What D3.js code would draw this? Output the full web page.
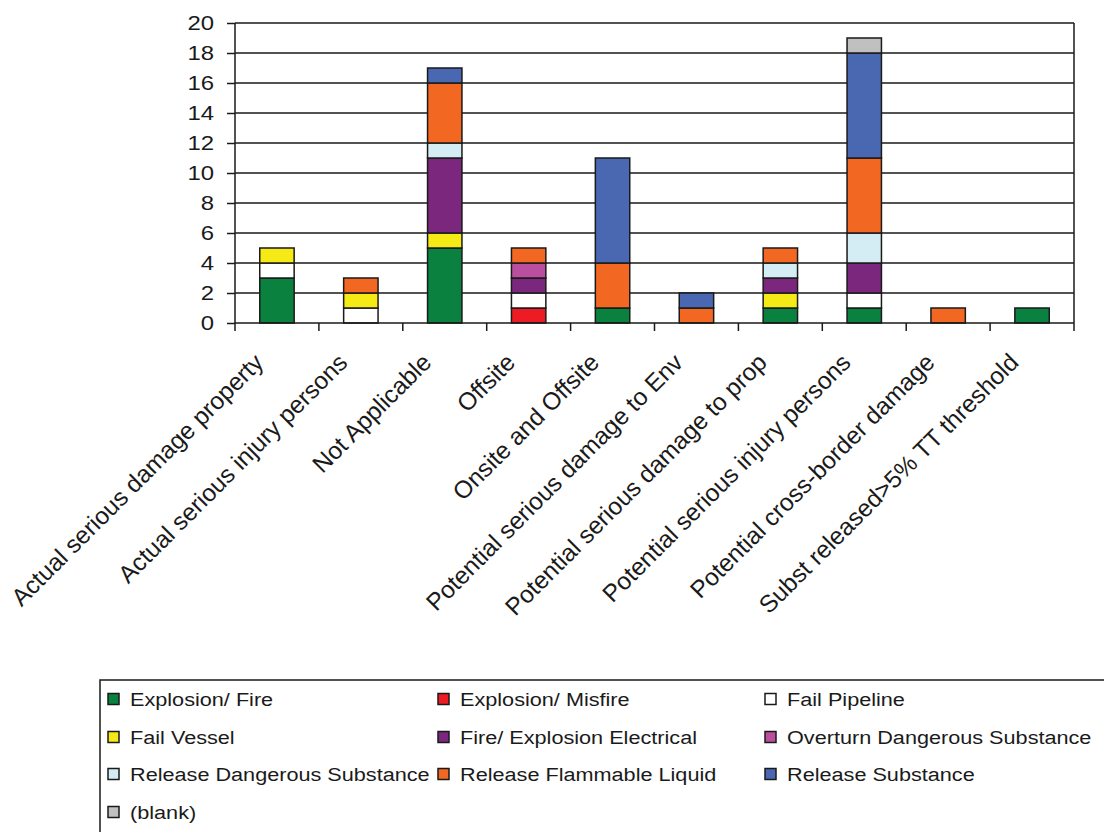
<!DOCTYPE html>
<html>
<head>
<meta charset="utf-8">
<script src="https://cdn.jsdelivr.net/npm/d3@7"></script>
<style>
  body { margin: 0; background: #fff; }
  svg { display: block; font-family: "Liberation Sans", Arial, sans-serif; }
</style>
</head>
<body>
<div id="chart"></div>
<script>
var categories = ["Actual serious damage property", "Actual serious injury persons", "Not Applicable",
    "Offsite", "Onsite and Offsite", "Potential serious damage to Env", "Potential serious damage to prop",
    "Potential serious injury persons", "Potential cross-border damage", "Subst released>5% TT threshold"];

var seriesNames = ["Explosion/ Fire", "Explosion/ Misfire", "Fail Pipeline", "Fail Vessel",
    "Fire/ Explosion Electrical", "Overturn Dangerous Substance", "Release Dangerous Substance",
    "Release Flammable Liquid", "Release Substance", "(blank)"];

var seriesColors = ["#0b8140", "#ed1c24", "#ffffff", "#f5e916", "#7b277d", "#b94f9e",
    "#d4edf4", "#f26822", "#4a67b1", "#c0c0c0"];

// one array per series, values per category
var explosionFire     = [3, 0, 5, 0, 1, 0, 1, 1, 0, 1];
var explosionMisfire  = [0, 0, 0, 1, 0, 0, 0, 0, 0, 0];
var failPipeline      = [1, 1, 0, 1, 0, 0, 0, 1, 0, 0];
var failVessel        = [1, 1, 1, 0, 0, 0, 1, 0, 0, 0];
var fireElectrical    = [0, 0, 5, 1, 0, 0, 1, 2, 0, 0];
var overturnDangerous = [0, 0, 0, 1, 0, 0, 0, 0, 0, 0];
var releaseDangerous  = [0, 0, 1, 0, 0, 0, 1, 2, 0, 0];
var releaseFlammable  = [0, 1, 4, 1, 3, 1, 1, 5, 1, 0];
var releaseSubstance  = [0, 0, 1, 0, 7, 1, 0, 7, 0, 0];
var blank             = [0, 0, 0, 0, 0, 0, 0, 1, 0, 0];

var seriesValues = [explosionFire, explosionMisfire, failPipeline, failVessel, fireElectrical,
    overturnDangerous, releaseDangerous, releaseFlammable, releaseSubstance, blank];

var yTicks = [0, 2, 4, 6, 8, 10, 12, 14, 16, 18, 20];

var svgWidth = 1104, svgHeight = 832;
var margin = {top: 23, left: 235, right: 30},
    width = 1074 - margin.left,
    height = 300;
var stretch = 1.14; // the reference text is a bit wide

var svg = d3.select("#chart").append("svg")
    .attr("width", svgWidth)
    .attr("height", svgHeight);

var g = svg.append("g")
    .attr("transform", "translate(" + margin.left + "," + margin.top + ")");

// build table for d3.stack
var keys = seriesNames;
var table = categories.map(function(c, i) {
    var row = {category: c};
    keys.forEach(function(k, j) { row[k] = seriesValues[j][i]; });
    return row;
});

var stacked = d3.stack().keys(keys)(table);

var x = d3.scaleBand()
    .domain(categories)
    .range([0, width])
    .paddingInner(0)
    .paddingOuter(0);

var y = d3.scaleLinear()
    .domain([0, 20])
    .range([height, 0]);

var color = d3.scaleOrdinal().domain(keys).range(seriesColors);

// gridlines
g.append("g")
    .attr("class", "grid")
    .selectAll("line")
    .data(yTicks.slice(1))
    .enter().append("line")
    .attr("x1", 0)
    .attr("x2", width)
    .attr("y1", function(d) { return y(d); })
    .attr("y2", function(d) { return y(d); })
    .attr("stroke", "#1a1a1a")
    .attr("stroke-width", 1.5);

// right border
g.append("line")
    .attr("x1", width).attr("x2", width)
    .attr("y1", 0).attr("y2", height)
    .attr("stroke", "#1a1a1a")
    .attr("stroke-width", 1.5);

// bars
var barW = x.bandwidth() * 0.41;
var layer = g.selectAll(".layer")
    .data(stacked)
    .enter().append("g")
    .attr("class", "layer")
    .attr("fill", function(d) { return color(d.key); });

layer.selectAll("rect")
    .data(function(d) { return d.filter(function(p) { return p[1] - p[0] > 0; }); })
    .enter().append("rect")
    .attr("x", function(d) { return x(d.data.category) + (x.bandwidth() - barW) / 2; })
    .attr("y", function(d) { return y(d[1]); })
    .attr("width", barW)
    .attr("height", function(d) { return y(d[0]) - y(d[1]); })
    .attr("stroke", "#1a1a1a")
    .attr("stroke-width", 1.5);

// y axis
var yAxis = d3.axisLeft(y)
    .tickValues(yTicks)
    .tickSize(8)
    .tickPadding(12);

var yg = g.append("g")
    .attr("class", "y axis")
    .call(yAxis);
yg.selectAll("path, line").attr("stroke", "#1a1a1a").attr("stroke-width", 1.5);
yg.select(".domain").attr("d", "M0,0V" + height);
yg.selectAll(".tick text")
    .attr("fill", "#1a1a1a")
    .attr("x", null)
    .attr("transform", "translate(-21,0) scale(" + stretch + ",1)")
    .style("font-size", "21px");

// x axis: ticks at category boundaries
var xg = g.append("g")
    .attr("class", "x axis")
    .attr("transform", "translate(0," + height + ")");
xg.append("line")
    .attr("x1", 0).attr("x2", width)
    .attr("stroke", "#1a1a1a").attr("stroke-width", 1.5);
xg.selectAll(".xtick")
    .data(d3.range(categories.length + 1))
    .enter().append("line")
    .attr("class", "xtick")
    .attr("x1", function(i) { return i * x.step(); })
    .attr("x2", function(i) { return i * x.step(); })
    .attr("y1", 0).attr("y2", 8)
    .attr("stroke", "#1a1a1a").attr("stroke-width", 1.5);

xg.selectAll(".xlabel")
    .data(categories)
    .enter().append("text")
    .attr("class", "xlabel")
    .attr("text-anchor", "end")
    .attr("transform", function(d) {
        return "translate(" + (x(d) + x.bandwidth() / 2 - 12) + ",41) rotate(-45)";
    })
    .attr("fill", "#1a1a1a")
    .style("font-size", "24.4px")
    .text(function(d) { return d; });

// legend
var legend = svg.append("g").attr("class", "legend");
legend.append("rect")
    .attr("x", 100).attr("y", 680)
    .attr("width", 1020).attr("height", 170)
    .attr("fill", "none")
    .attr("stroke", "#1a1a1a")
    .attr("stroke-width", 1.5);

var colX = [108, 438, 765];
var rowY = [699, 737, 774, 812];

var item = legend.selectAll(".item")
    .data(keys)
    .enter().append("g")
    .attr("class", "item")
    .attr("transform", function(d, i) {
        return "translate(" + colX[i % 3] + "," + rowY[Math.floor(i / 3)] + ")";
    });

item.append("rect")
    .attr("x", 0).attr("y", -5.5)
    .attr("width", 11).attr("height", 11)
    .attr("fill", function(d) { return color(d); })
    .attr("stroke", "#1a1a1a")
    .attr("stroke-width", 1.5);

item.append("text")
    .attr("transform", "translate(22,7) scale(" + stretch + ",1)")
    .attr("fill", "#1a1a1a")
    .style("font-size", "19px")
    .text(function(d) { return d; });
</script>
</body>
</html>
